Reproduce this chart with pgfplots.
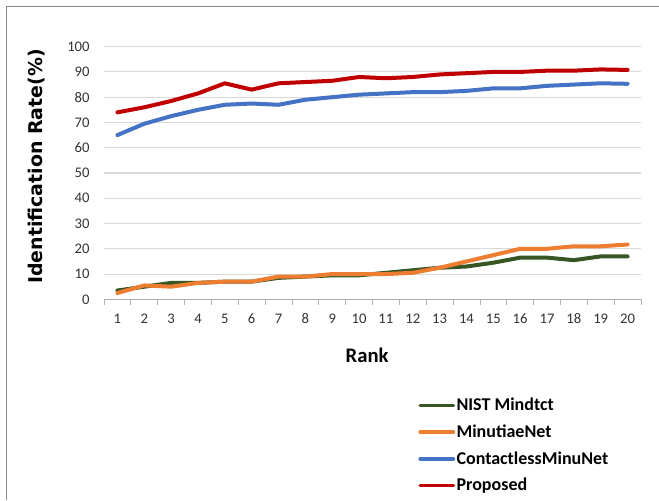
\documentclass[border=0pt]{standalone}
\usepackage{fontspec}
\setmainfont{Carlito}
\newfontfamily\verdana{DejaVu Sans}
\usepackage{pgfplots}
\pgfplotsset{compat=1.18}
\definecolor{cgreen}{HTML}{375623}
\definecolor{corange}{HTML}{ED7D31}
\definecolor{cblue}{HTML}{4472C4}
\definecolor{cred}{HTML}{C00000}
\begin{document}
\begin{tikzpicture}
\useasboundingbox (0,0) rectangle (494.25pt,375pt);
\draw[black!47, line width=1.1pt] (4.9pt,0) -- (4.9pt,370.1pt) -- (494.25pt,370.1pt);
\begin{axis}[
  at={(78pt,150.5pt)}, anchor=south west,
  scale only axis, width=402.75pt, height=189.5pt,
  xmin=0.5, xmax=20.5, ymin=0, ymax=100,
  xtick={1,...,20}, ytick={0,10,...,100},
  minor xtick={0.5,1.5,...,20.5},
  major x tick style={draw=none},
  minor tick length=4pt, tick align=outside,
  minor x tick style={black!30, line width=0.6pt},
  axis x line*=bottom, axis y line*=left,
  x axis line style={black!30, line width=0.8pt, -},
  y axis line style={draw=none},
  ytick style={draw=none},
  ymajorgrids, grid style={black!15, line width=0.8pt},
  /pgf/number format/assume math mode=true,
  tick label style={font=\fontsize{11}{13}\selectfont, text=black!80},
  xticklabel style={yshift=-3pt},
  yticklabel style={xshift=-3pt},
  xlabel={Rank},
  xlabel style={font=\fontsize{15.5}{18}\selectfont\bfseries, at={(axis description cs:0.49,-0.22)}, anchor=center},
  ylabel={Identification Rate(\%)},
  ylabel style={font=\verdana\fontsize{14.2}{16}\selectfont\bfseries, at={(axis description cs:-0.125,0.526)}, anchor=center},
  legend style={at={(0.585,-0.385)}, anchor=north west, draw=none, fill=none,
    font=\fontsize{13.5}{15}\selectfont\bfseries, row sep=7pt, inner sep=0pt,
    nodes={inner sep=1pt}},
  legend cell align=left,
  legend image code/.code={\draw[#1, line width=2.6pt] (0pt,0pt) -- (25pt,0pt);},
  every axis plot/.append style={line width=3pt, line join=round, line cap=round, mark=none},
]
\addplot[cgreen] coordinates {(1,3.5)(2,5)(3,6.5)(4,6.5)(5,7)(6,7)(7,8.5)(8,9)(9,9.5)(10,9.5)(11,10.5)(12,11.5)(13,12.5)(14,13)(15,14.5)(16,16.5)(17,16.5)(18,15.5)(19,17)(20,17)};
\addlegendentry{NIST Mindtct}
\addplot[corange] coordinates {(1,2.5)(2,5.5)(3,5)(4,6.5)(5,7)(6,7)(7,9)(8,9)(9,10)(10,10)(11,10)(12,10.5)(13,12.5)(14,15)(15,17.5)(16,20)(17,20)(18,21)(19,21)(20,21.7)};
\addlegendentry{MinutiaeNet}
\addplot[cblue] coordinates {(1,65)(2,69.5)(3,72.5)(4,75)(5,77)(6,77.5)(7,77)(8,79)(9,80)(10,81)(11,81.5)(12,82)(13,82)(14,82.5)(15,83.5)(16,83.5)(17,84.5)(18,85)(19,85.5)(20,85.3)};
\addlegendentry{ContactlessMinuNet}
\addplot[cred] coordinates {(1,74)(2,76)(3,78.5)(4,81.5)(5,85.5)(6,83)(7,85.5)(8,86)(9,86.5)(10,88)(11,87.5)(12,88)(13,89)(14,89.5)(15,90)(16,90)(17,90.5)(18,90.5)(19,91)(20,90.8)};
\addlegendentry{Proposed}
\end{axis}
\end{tikzpicture}
\end{document}
